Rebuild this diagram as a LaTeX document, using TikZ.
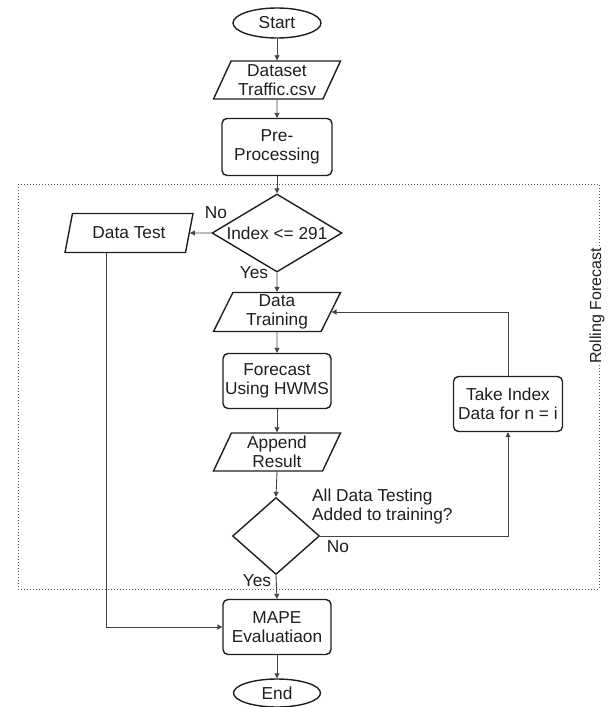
\documentclass[tikz,border=0pt]{standalone}
\usepackage{fontspec}
\setmainfont{Liberation Sans}
\usetikzlibrary{shapes.geometric,arrows.meta,positioning}
\definecolor{ink}{HTML}{1E1E1E}
\definecolor{conn}{HTML}{444444}
\tikzset{
  base/.style={draw=ink, line width=1.4pt, text=ink, align=center, inner sep=1pt,
    font=\fontsize{17.3}{19}\selectfont},
  terminal/.style={base, ellipse, minimum width=88pt, minimum height=30pt},
  procbox/.style={base, rectangle, rounded corners=5pt, minimum width=108pt, minimum height=55pt},
  iobox/.style={base, trapezium, trapezium left angle=62, trapezium right angle=118,
    trapezium stretches body=true, minimum width=127pt, minimum height=38pt},
  conn/.style={draw=conn, line width=0.9pt, -{Triangle[length=5pt,width=5pt]}},
  lbl/.style={text=ink, font=\fontsize{17.3}{19}\selectfont, inner sep=0pt},
}
\begin{document}
\begin{tikzpicture}[x=1pt,y=-1pt]
\useasboundingbox (0,0) rectangle (613,707);
% rolling forecast frame
\draw[conn!90, dotted, line width=1pt] (18,184) rectangle (599,589);
\node[fill=white, inner sep=1pt, rotate=90, text=ink, font=\fontsize{16}{18}\selectfont] (rf) at (597,306) {Rolling Forecast};

\node[terminal] (start) at (277,23) {Start};
\node[iobox] (data) at (277,80) {Dataset\\Traffic.csv};
\node[procbox, minimum width=110pt, minimum height=57pt] (pre) at (277,147) {Pre-\\Processing};
\node[base, diamond, aspect=1.67, minimum width=130pt, minimum height=78pt, inner sep=0pt] (idx) at (277,233) {Index <= 291};
\node[iobox, minimum width=128pt, minimum height=39pt] (dtest) at (129,233) {Data Test};
\node[iobox, minimum height=39pt] (dtrain) at (277,312) {Data\\Training};
\node[procbox] (fc) at (277,381) {Forecast\\Using HWMS};
\node[iobox] (app) at (277,452) {Append\\Result};
\node[base, diamond, minimum width=87pt, minimum height=77pt, inner sep=0pt] (dec2) at (276,536) {};
\node[procbox, minimum width=109pt] (take) at (508,404) {Take Index\\Data for n = i};
\node[procbox] (mape) at (277,627) {MAPE\\Evaluatiaon};
\node[terminal, minimum width=87pt, minimum height=28pt] (end) at (277,693) {End};

\node[lbl] (no1) at (216,213) {No};
\node[lbl] (yes1) at (254,273) {Yes};
\node[lbl, align=left, anchor=west] (q2) at (312,507) {All Data Testing\\Added to training?};
\node[lbl] (no2) at (338,547) {No};
\node[lbl] (yes2) at (257,581) {Yes};

\coordinate (tl) at (106,627);

\draw[conn] (start) -- (data);
\draw[conn] (data) -- (pre);
\draw[conn] (pre) -- (idx);
\draw[conn] (idx.west) -- (dtest.east);
\draw[conn] (idx.south) -- (dtrain.north);
\draw[conn] (dtrain) -- (fc);
\draw[conn] (fc) -- (app);
\draw[conn] (app.south) -- (dec2.north);
\draw[conn] (dec2.south) -- (mape.north);
\draw[conn] (dec2.east) -| (take.south);
\draw[conn] (take.north) |- (dtrain.east);
\draw[conn] (dtest.south -| tl) |- (mape.west);
\draw[conn] (mape) -- (end);
\end{tikzpicture}
\end{document}
